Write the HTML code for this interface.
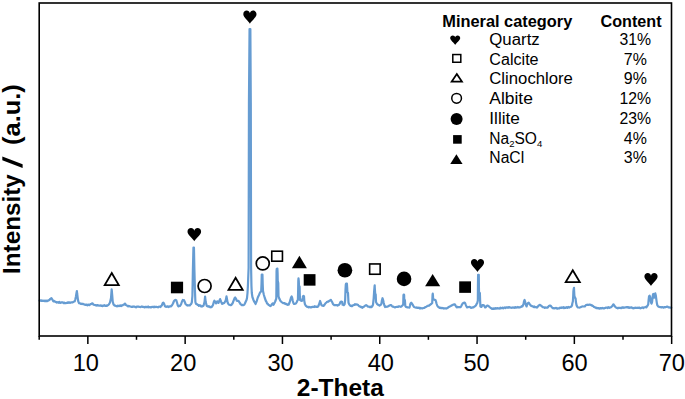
<!DOCTYPE html>
<html><head><meta charset="utf-8"><title>XRD</title>
<style>
html,body{margin:0;padding:0;background:#fff;}
body{width:685px;height:399px;overflow:hidden;}
svg{display:block;font-family:"Liberation Sans",sans-serif;}
.tk text{font-size:23.6px;fill:#000;}
.lg{font-size:15.6px;fill:#000;}
.hd{font-size:16.2px;font-weight:bold;fill:#000;}
.ax{font-weight:bold;fill:#000;}
</style></head>
<body>
<svg width="685" height="399" viewBox="0 0 685 399">
<rect width="685" height="399" fill="#fff"/>
<path d="M39.50,300.60 L40.08,300.47 L40.67,300.35 L41.25,300.90 L41.83,300.37 L42.42,300.89 L43.00,300.90 L43.59,300.81 L44.17,300.54 L44.76,301.04 L45.34,300.61 L45.93,301.05 L46.51,300.73 L47.10,301.20 L47.70,300.54 L48.30,300.70 L48.85,300.27 L49.40,300.00 L50.40,298.80 L51.40,298.10 L52.20,299.30 L53.10,300.90 L53.63,301.46 L54.17,300.99 L54.70,301.60 L55.23,301.49 L55.77,302.06 L56.30,302.10 L56.92,302.61 L57.53,302.31 L58.15,302.20 L58.77,302.84 L59.38,301.98 L60.00,302.50 L60.62,302.91 L61.24,302.40 L61.87,302.31 L62.49,302.34 L63.11,302.59 L63.73,303.15 L64.36,302.57 L64.98,303.03 L65.60,303.00 L66.17,303.11 L66.73,302.81 L67.30,302.95 L67.87,302.43 L68.43,302.39 L69.00,302.80 L69.62,302.45 L70.24,302.86 L70.86,302.55 L71.48,302.37 L72.10,302.50 L72.70,302.34 L73.30,302.00 L74.00,301.60 L74.70,301.30 L75.30,299.50 L75.90,296.70 L76.50,293.00 L76.90,291.10 L77.20,294.00 L77.80,298.60 L78.30,301.50 L79.10,303.20 L79.65,303.15 L80.20,303.50 L80.80,303.89 L81.40,303.70 L82.05,304.05 L82.70,303.74 L83.35,304.22 L84.00,304.30 L84.58,304.45 L85.16,304.92 L85.74,304.89 L86.32,304.57 L86.90,304.90 L87.46,305.38 L88.02,304.52 L88.58,304.82 L89.14,305.16 L89.70,304.90 L90.30,304.20 L90.90,304.20 L91.45,303.79 L92.00,303.40 L92.60,303.39 L93.20,304.30 L93.80,304.77 L94.40,304.90 L95.00,305.00 L95.60,305.32 L96.20,305.19 L96.80,305.56 L97.40,305.05 L98.00,305.30 L98.62,305.55 L99.23,305.49 L99.85,305.53 L100.47,305.46 L101.08,305.89 L101.70,305.60 L102.36,306.06 L103.02,305.61 L103.68,305.82 L104.34,305.24 L105.00,305.70 L105.62,305.80 L106.25,305.65 L106.88,305.89 L107.50,305.30 L108.25,305.12 L109.00,304.30 L110.00,302.50 L111.00,298.00 L111.50,291.50 L111.65,289.30 L111.80,290.50 L112.20,295.00 L112.70,301.50 L113.60,304.60 L114.50,305.60 L115.20,305.58 L115.90,305.89 L116.60,306.20 L117.17,306.34 L117.73,305.66 L118.30,306.06 L118.87,305.73 L119.43,305.65 L120.00,306.00 L120.62,305.43 L121.25,306.02 L121.88,305.25 L122.50,305.50 L123.25,304.80 L124.00,304.60 L125.00,303.60 L126.00,305.00 L126.75,305.39 L127.50,306.00 L128.12,306.47 L128.75,305.78 L129.38,306.25 L130.00,306.40 L130.62,306.50 L131.25,306.88 L131.88,306.87 L132.50,306.96 L133.12,306.43 L133.75,306.62 L134.38,306.61 L135.00,306.80 L135.62,307.21 L136.25,307.31 L136.88,306.53 L137.50,306.58 L138.12,306.66 L138.75,306.68 L139.38,306.96 L140.00,307.00 L140.62,307.08 L141.25,306.74 L141.88,306.47 L142.50,306.87 L143.12,306.81 L143.75,306.99 L144.38,307.37 L145.00,306.90 L145.62,307.10 L146.25,306.94 L146.88,307.06 L147.50,307.13 L148.12,306.52 L148.75,307.37 L149.38,307.27 L150.00,307.00 L150.62,307.40 L151.25,307.35 L151.88,306.97 L152.50,307.00 L153.12,306.73 L153.75,307.28 L154.38,306.74 L155.00,307.20 L155.60,306.79 L156.20,306.95 L156.80,306.92 L157.40,307.12 L158.00,307.30 L158.62,306.78 L159.25,306.65 L159.88,306.73 L160.50,307.00 L161.15,305.85 L161.80,305.50 L162.70,303.20 L163.40,302.60 L164.20,304.00 L165.00,306.30 L166.00,306.90 L166.67,306.70 L167.33,306.29 L168.00,306.70 L168.56,307.03 L169.12,306.73 L169.68,306.23 L170.24,306.29 L170.80,306.50 L171.40,305.75 L172.00,305.30 L173.00,303.50 L174.00,301.00 L175.00,300.00 L175.65,299.96 L176.30,300.20 L177.00,302.50 L177.80,305.50 L178.60,306.40 L179.30,305.82 L180.00,306.00 L181.00,304.50 L182.00,301.50 L182.80,300.00 L183.40,300.45 L184.00,300.20 L184.80,302.00 L185.60,304.20 L186.50,304.80 L187.25,305.54 L188.00,305.30 L188.60,305.33 L189.20,305.42 L189.80,305.50 L190.40,304.44 L191.00,304.20 L191.80,302.50 L192.40,296.00 L192.90,270.00 L193.45,247.60 L193.95,247.60 L194.40,270.00 L195.00,292.00 L195.40,302.00 L196.00,303.80 L196.57,303.80 L197.13,304.44 L197.70,305.00 L198.27,304.96 L198.85,305.73 L199.43,305.26 L200.00,305.80 L200.57,305.47 L201.15,306.55 L201.73,306.28 L202.30,306.40 L202.90,305.75 L203.50,305.80 L204.50,302.00 L205.10,296.50 L205.10,296.50 L205.70,302.00 L206.70,305.80 L207.50,306.40 L208.14,306.54 L208.78,306.13 L209.42,306.73 L210.06,307.28 L210.70,306.90 L211.35,307.11 L212.00,306.60 L213.00,305.00 L213.80,302.00 L214.40,300.70 L215.20,302.00 L216.10,303.40 L216.70,302.30 L217.20,301.30 L217.90,302.30 L218.50,302.90 L219.30,301.00 L220.10,299.10 L221.00,301.50 L221.60,302.90 L222.20,303.90 L222.75,303.46 L223.30,303.50 L223.85,303.07 L224.40,302.90 L225.00,301.62 L225.60,301.00 L226.30,297.50 L226.50,296.40 L226.70,297.50 L227.50,302.00 L228.10,303.52 L228.70,304.50 L229.35,304.73 L230.00,304.90 L230.70,305.23 L231.40,305.00 L231.95,304.08 L232.50,303.50 L233.60,300.70 L234.50,298.30 L235.20,297.50 L236.00,298.80 L236.80,300.70 L237.80,301.00 L238.35,300.87 L238.90,301.30 L239.45,302.46 L240.00,303.00 L240.55,304.23 L241.10,304.50 L241.80,305.05 L242.50,304.90 L243.15,305.26 L243.80,305.00 L244.35,304.57 L244.90,303.50 L245.90,301.30 L246.50,300.00 L247.00,298.00 L247.50,293.00 L247.90,286.00 L248.60,268.00 L248.95,103.00 L249.55,29.00 L250.35,29.00 L250.80,103.00 L251.10,268.00 L251.45,286.00 L251.80,293.00 L252.40,297.00 L253.50,300.00 L254.05,301.39 L254.60,302.30 L255.60,304.00 L256.10,302.48 L256.60,301.50 L257.80,297.50 L258.40,296.27 L259.00,295.00 L260.00,292.60 L260.60,291.81 L261.20,291.30 L261.50,284.00 L261.75,274.60 L262.45,274.60 L262.70,284.00 L263.00,291.00 L263.90,295.00 L264.80,298.00 L265.90,301.00 L266.45,301.73 L267.00,303.40 L267.75,303.73 L268.50,305.00 L269.07,305.15 L269.63,305.49 L270.20,306.10 L271.20,305.50 L272.00,304.00 L272.80,303.30 L273.50,304.80 L274.20,303.50 L275.20,301.50 L276.30,298.50 L276.45,285.00 L276.55,271.00 L276.75,268.80 L277.40,268.70 L277.60,273.00 L277.75,281.00 L278.25,283.00 L278.50,296.30 L279.40,298.80 L280.20,300.50 L281.00,301.50 L282.00,302.30 L282.60,302.73 L283.20,303.22 L283.80,303.00 L284.40,303.11 L285.00,303.77 L285.60,303.50 L286.30,304.34 L287.00,304.20 L287.53,304.82 L288.07,304.40 L288.60,304.70 L289.60,302.50 L290.40,299.90 L291.00,297.50 L291.60,296.50 L292.20,298.00 L292.80,301.00 L293.40,303.00 L294.00,304.00 L295.00,303.80 L295.90,303.50 L296.80,302.00 L297.35,300.67 L297.90,299.90 L298.15,290.00 L298.30,280.60 L298.50,278.30 L298.80,281.00 L298.95,285.50 L299.60,286.50 L299.75,293.00 L300.00,299.90 L301.00,300.80 L301.90,301.00 L302.70,298.00 L303.00,296.30 L303.50,295.90 L304.00,296.30 L304.30,301.00 L304.90,304.00 L305.80,305.90 L306.40,306.08 L307.00,306.80 L307.75,306.75 L308.50,307.30 L309.12,306.93 L309.75,307.27 L310.38,307.48 L311.00,307.00 L311.57,307.29 L312.15,306.88 L312.73,307.00 L313.30,306.80 L313.98,307.05 L314.65,306.28 L315.32,306.81 L316.00,306.60 L316.52,306.98 L317.05,306.83 L317.58,306.78 L318.10,306.50 L318.80,305.00 L319.30,303.50 L320.10,301.00 L320.80,303.00 L321.50,305.30 L322.50,305.70 L323.50,305.90 L324.50,304.80 L325.30,303.50 L325.90,302.98 L326.50,302.50 L327.10,301.78 L327.70,301.70 L328.35,301.64 L329.00,301.00 L330.00,300.50 L330.80,299.80 L331.80,301.50 L332.40,302.58 L333.00,304.00 L333.67,304.67 L334.33,305.20 L335.00,305.10 L335.67,305.03 L336.33,305.07 L337.00,305.20 L337.57,305.61 L338.13,305.36 L338.70,305.10 L339.60,304.00 L340.10,302.80 L340.50,301.90 L341.03,301.57 L341.57,301.53 L342.10,301.90 L342.60,304.70 L343.20,304.55 L343.80,305.10 L344.60,304.30 L345.15,300.00 L345.50,290.00 L345.80,284.50 L346.10,283.60 L346.90,283.60 L347.20,288.00 L347.40,292.20 L348.00,293.00 L348.30,299.00 L348.50,302.80 L349.20,304.30 L349.80,305.10 L350.40,305.80 L351.00,305.70 L351.60,306.21 L352.20,306.10 L352.85,305.30 L353.50,305.20 L354.20,305.03 L354.90,304.20 L355.45,304.73 L356.00,304.30 L356.65,304.56 L357.30,304.50 L357.90,304.85 L358.50,305.50 L359.05,306.05 L359.60,306.50 L360.20,306.43 L360.80,307.10 L361.35,306.81 L361.90,307.50 L362.45,307.77 L363.00,307.10 L363.60,306.95 L364.20,306.50 L365.20,305.70 L366.10,305.10 L366.65,305.53 L367.20,305.90 L367.80,306.63 L368.40,306.50 L368.93,306.53 L369.47,307.07 L370.00,306.80 L370.53,307.19 L371.07,306.64 L371.60,307.00 L372.40,306.00 L373.00,304.70 L373.70,298.00 L374.10,291.70 L374.50,287.00 L374.70,285.40 L374.80,288.00 L375.20,293.60 L375.70,294.50 L376.00,301.90 L376.70,303.30 L377.20,304.20 L377.75,304.35 L378.30,305.00 L378.90,305.09 L379.50,305.60 L380.50,305.00 L381.40,303.80 L381.90,300.50 L382.50,298.20 L383.10,300.00 L383.70,302.80 L384.40,305.50 L385.10,307.00 L385.80,306.64 L386.50,306.80 L387.20,306.74 L387.90,306.50 L388.60,305.86 L389.30,305.70 L390.00,305.32 L390.70,305.10 L391.25,305.13 L391.80,305.90 L392.40,306.61 L393.00,306.50 L394.00,307.00 L395.00,307.40 L395.60,307.09 L396.20,307.02 L396.80,306.90 L397.43,306.82 L398.07,306.97 L398.70,306.40 L399.35,306.37 L400.00,306.50 L400.75,306.87 L401.50,306.40 L402.10,305.80 L402.40,305.50 L403.20,304.50 L403.35,299.00 L403.45,295.30 L403.65,294.50 L404.00,294.50 L404.15,295.30 L404.25,299.00 L404.90,300.30 L405.10,303.00 L405.30,306.00 L406.10,306.90 L406.80,307.15 L407.50,307.40 L408.50,307.50 L409.40,307.60 L409.90,306.00 L410.30,304.10 L410.70,303.20 L411.20,302.70 L411.90,303.50 L412.60,304.60 L413.30,305.80 L414.00,306.90 L414.75,307.23 L415.50,307.50 L416.10,307.69 L416.70,307.35 L417.30,308.00 L417.85,307.99 L418.40,307.78 L418.95,307.65 L419.50,308.20 L420.10,308.52 L420.70,307.92 L421.30,308.25 L421.90,308.30 L422.60,308.38 L423.30,308.00 L424.00,307.86 L424.70,307.60 L425.25,307.13 L425.80,307.00 L426.40,306.62 L427.00,306.20 L427.70,305.96 L428.40,305.60 L429.10,305.58 L429.80,305.00 L430.60,304.40 L431.20,304.00 L432.20,303.00 L432.40,298.50 L432.55,295.00 L432.75,293.60 L432.95,295.30 L433.10,298.50 L434.00,299.60 L435.00,299.80 L435.60,300.20 L436.00,301.50 L436.50,303.50 L437.20,305.50 L437.90,306.60 L438.70,307.20 L439.50,307.80 L440.10,307.51 L440.70,308.06 L441.30,308.10 L441.93,307.92 L442.57,308.01 L443.20,308.30 L443.80,308.57 L444.40,308.31 L445.00,308.30 L445.63,308.36 L446.27,308.56 L446.90,308.30 L447.90,307.70 L448.80,306.90 L449.80,306.40 L450.70,306.00 L451.60,305.50 L452.50,305.00 L453.50,304.60 L454.40,304.30 L455.00,304.60 L455.70,305.80 L456.40,306.90 L456.92,307.34 L457.45,306.89 L457.98,307.09 L458.50,307.00 L459.02,307.03 L459.55,307.06 L460.08,307.27 L460.60,307.10 L461.30,306.00 L462.00,304.60 L462.90,303.20 L463.80,302.80 L464.70,302.50 L465.20,303.30 L465.70,304.60 L466.40,306.20 L467.10,307.40 L467.65,307.20 L468.20,307.10 L468.80,307.03 L469.40,306.90 L469.95,307.08 L470.50,307.30 L471.10,307.89 L471.70,307.60 L472.25,307.65 L472.80,307.30 L473.40,307.48 L474.00,306.90 L475.00,306.30 L475.90,305.50 L476.60,304.00 L477.20,303.20 L477.85,300.50 L477.95,285.00 L478.10,274.80 L478.80,274.80 L478.90,285.00 L479.00,292.00 L479.90,293.20 L480.10,300.00 L480.40,306.40 L481.40,306.90 L481.90,306.00 L482.40,305.00 L483.10,305.00 L483.80,305.20 L484.50,306.30 L485.10,307.40 L485.70,307.39 L486.30,306.50 L486.90,305.76 L487.50,305.50 L488.20,305.90 L488.90,306.40 L489.80,307.20 L490.70,308.00 L491.23,308.23 L491.77,308.78 L492.30,308.50 L492.87,308.94 L493.43,308.34 L494.00,308.80 L494.57,308.37 L495.15,308.64 L495.73,308.22 L496.30,308.60 L496.88,308.27 L497.45,308.02 L498.03,308.54 L498.60,308.30 L499.16,308.52 L499.72,308.58 L500.28,307.77 L500.84,308.28 L501.40,308.00 L501.96,308.12 L502.52,307.56 L503.08,308.26 L503.64,308.31 L504.20,307.80 L504.87,307.42 L505.53,308.05 L506.20,307.50 L506.73,307.32 L507.25,307.34 L507.77,307.76 L508.30,307.20 L508.87,307.63 L509.43,307.06 L510.00,307.50 L510.53,307.53 L511.07,307.72 L511.60,307.80 L512.17,307.61 L512.73,307.43 L513.30,307.70 L513.87,307.49 L514.43,307.86 L515.00,307.60 L515.58,307.09 L516.15,307.60 L516.72,307.47 L517.30,307.50 L517.88,306.99 L518.45,307.28 L519.02,307.55 L519.60,307.40 L520.30,307.16 L521.00,306.90 L521.70,306.21 L522.40,306.40 L523.00,305.40 L523.50,304.10 L524.00,301.50 L524.60,300.00 L525.10,301.50 L525.50,303.70 L526.00,305.20 L526.60,306.40 L527.00,305.00 L527.50,303.70 L528.10,303.00 L528.70,302.70 L529.50,303.80 L530.30,305.00 L531.00,305.89 L531.70,305.80 L532.40,306.39 L533.10,306.40 L533.73,307.11 L534.37,306.47 L535.00,307.10 L535.60,307.03 L536.20,306.97 L536.80,307.60 L537.80,306.70 L538.70,305.50 L539.40,305.10 L540.00,304.90 L541.00,305.60 L541.90,306.40 L542.60,307.08 L543.30,307.20 L544.00,307.27 L544.70,307.80 L545.35,307.38 L546.00,307.70 L546.75,307.57 L547.50,307.60 L548.20,306.90 L548.90,306.00 L549.60,305.60 L550.30,305.50 L551.20,306.40 L552.10,307.40 L552.80,308.11 L553.50,308.00 L554.20,308.47 L554.90,308.30 L555.50,308.06 L556.10,307.95 L556.70,308.30 L557.33,308.72 L557.97,308.37 L558.60,308.30 L559.23,308.40 L559.87,307.69 L560.50,308.00 L561.10,307.42 L561.70,307.92 L562.30,307.60 L562.88,307.53 L563.45,307.17 L564.02,308.04 L564.60,307.60 L565.17,307.73 L565.75,307.90 L566.33,307.18 L566.90,307.60 L567.53,307.86 L568.17,306.97 L568.80,307.30 L569.43,307.53 L570.07,306.99 L570.70,306.90 L571.40,306.30 L572.00,305.50 L572.30,303.50 L572.90,301.30 L573.20,296.00 L573.40,291.10 L573.80,288.50 L574.00,287.90 L574.10,290.50 L574.40,295.80 L575.00,297.50 L575.60,298.60 L575.90,302.00 L576.50,305.00 L577.10,306.50 L577.70,307.40 L578.70,307.50 L579.60,307.60 L580.50,307.20 L581.50,306.70 L582.20,306.44 L582.90,306.50 L583.55,306.50 L584.20,306.40 L584.80,306.48 L585.40,305.70 L586.00,305.12 L586.60,305.00 L587.23,304.60 L587.87,304.96 L588.50,304.90 L589.10,304.64 L589.70,304.51 L590.30,304.90 L590.90,304.81 L591.50,305.40 L592.05,305.25 L592.60,306.00 L593.30,306.15 L594.00,306.90 L594.70,307.06 L595.40,307.60 L595.92,307.56 L596.45,308.16 L596.98,307.84 L597.50,308.20 L598.17,308.33 L598.83,308.14 L599.50,308.60 L600.13,308.41 L600.77,308.05 L601.40,308.50 L602.03,308.18 L602.67,307.88 L603.30,308.30 L603.93,308.43 L604.57,308.15 L605.20,308.00 L605.80,307.56 L606.40,307.71 L607.00,307.60 L607.63,308.00 L608.27,307.14 L608.90,307.50 L609.50,307.79 L610.10,307.37 L610.70,307.40 L611.50,306.80 L612.30,306.00 L612.90,305.00 L613.50,304.30 L614.20,305.30 L614.80,306.40 L615.80,307.30 L616.70,308.00 L617.23,307.96 L617.77,308.27 L618.30,307.90 L618.83,307.76 L619.37,307.84 L619.90,307.80 L620.53,307.92 L621.17,308.15 L621.80,307.60 L622.43,307.38 L623.07,307.80 L623.70,307.40 L624.25,307.63 L624.80,307.59 L625.35,307.38 L625.90,307.50 L626.42,307.37 L626.95,307.10 L627.48,307.20 L628.00,307.60 L628.62,307.20 L629.25,307.89 L629.88,307.43 L630.50,307.70 L631.12,307.41 L631.75,307.38 L632.38,308.19 L633.00,307.90 L633.60,308.29 L634.20,308.11 L634.80,307.74 L635.40,307.72 L636.00,308.00 L636.60,307.77 L637.20,307.92 L637.80,307.60 L638.40,307.87 L639.00,307.90 L639.60,307.62 L640.20,308.28 L640.80,308.25 L641.40,307.79 L642.00,307.70 L642.62,307.39 L643.25,308.07 L643.88,307.36 L644.50,307.50 L645.13,307.29 L645.77,306.87 L646.40,307.30 L646.95,306.43 L647.50,305.80 L648.20,304.50 L648.60,300.00 L649.00,296.50 L649.60,295.70 L650.10,297.00 L650.60,300.50 L651.10,302.80 L651.60,303.50 L652.10,302.00 L652.50,298.00 L652.90,295.00 L653.30,294.00 L653.80,295.50 L654.20,297.70 L654.70,295.50 L655.30,293.40 L655.80,295.50 L656.50,300.60 L656.90,303.30 L657.30,305.20 L658.10,306.30 L659.00,306.90 L659.58,307.00 L660.15,307.15 L660.72,306.98 L661.30,307.40 L661.90,307.48 L662.50,307.05 L663.10,307.39 L663.70,307.70 L664.45,307.09 L665.20,307.30 L665.85,307.00 L666.50,306.90 L667.17,306.61 L667.83,306.76 L668.50,307.40 L669.02,307.28 L669.55,307.28 L670.08,307.71 L670.60,307.70 L671.30,307.70" fill="none" stroke="#669cd2" stroke-width="2.2" stroke-linejoin="round" stroke-linecap="round"/>
<rect x="39.2" y="3" width="632.3" height="333" fill="none" stroke="#000" stroke-width="1.6"/>
<g stroke="#000" stroke-width="1.5">
<line x1="39.20" y1="336" x2="39.20" y2="339.8" />
<line x1="87.85" y1="336" x2="87.85" y2="344" />
<line x1="136.50" y1="336" x2="136.50" y2="339.8" />
<line x1="185.15" y1="336" x2="185.15" y2="344" />
<line x1="233.80" y1="336" x2="233.80" y2="339.8" />
<line x1="282.45" y1="336" x2="282.45" y2="344" />
<line x1="331.10" y1="336" x2="331.10" y2="339.8" />
<line x1="379.75" y1="336" x2="379.75" y2="344" />
<line x1="428.40" y1="336" x2="428.40" y2="339.8" />
<line x1="477.05" y1="336" x2="477.05" y2="344" />
<line x1="525.70" y1="336" x2="525.70" y2="339.8" />
<line x1="574.35" y1="336" x2="574.35" y2="344" />
<line x1="623.00" y1="336" x2="623.00" y2="339.8" />
<line x1="671.65" y1="336" x2="671.65" y2="344" />
</g>
<g class="tk">
<text x="85.75" y="371.3" text-anchor="middle">10</text>
<text x="183.20" y="371.3" text-anchor="middle">20</text>
<text x="280.55" y="371.3" text-anchor="middle">30</text>
<text x="380.75" y="371.3" text-anchor="middle">40</text>
<text x="476.55" y="371.3" text-anchor="middle">50</text>
<text x="574.50" y="371.3" text-anchor="middle">60</text>
<text x="671.75" y="371.3" text-anchor="middle">70</text>
</g>
<text class="ax" x="340.35" y="395.5" text-anchor="middle" font-size="24px" textLength="87" lengthAdjust="spacingAndGlyphs">2-Theta</text>
<text class="ax" transform="translate(19.5,273.9) rotate(-90)" font-size="23.4px" textLength="99.6" lengthAdjust="spacingAndGlyphs">Intensity</text>
<polygon points="2.3,156.6 2.3,160.3 22.6,167.9 22.6,164.2" fill="#000"/>
<text class="ax" transform="translate(19.5,144.9) rotate(-90)" font-size="23.4px" textLength="60.6" lengthAdjust="spacingAndGlyphs">(a.u.)</text>
<g>
<path d="M111.75,272.99 L118.79,285.10 L104.71,285.10 Z" fill="#fff" stroke="#000" stroke-width="1.8" stroke-linejoin="miter"/>
<rect x="170.90" y="281.70" width="12.20" height="11.60" fill="#000"/>
<path d="M194.30,241.20 C193.21,238.84 187.50,234.91 187.50,231.64 C187.50,229.41 189.00,228.10 191.04,228.10 C192.67,228.10 193.89,229.15 194.30,230.72 C194.71,229.15 195.93,228.10 197.56,228.10 C199.60,228.10 201.10,229.41 201.10,231.64 C201.10,234.91 195.39,238.84 194.30,241.20 Z" fill="#000"/>
<circle cx="204.60" cy="286.00" r="6.50" fill="#fff" stroke="#000" stroke-width="1.7"/>
<path d="M235.60,277.79 L242.69,289.80 L228.51,289.80 Z" fill="#fff" stroke="#000" stroke-width="1.8" stroke-linejoin="miter"/>
<path d="M249.90,23.70 C248.84,21.34 243.30,17.41 243.30,14.14 C243.30,11.91 244.75,10.60 246.73,10.60 C248.32,10.60 249.50,11.65 249.90,13.22 C250.30,11.65 251.48,10.60 253.07,10.60 C255.05,10.60 256.50,11.91 256.50,14.14 C256.50,17.41 250.96,21.34 249.90,23.70 Z" fill="#000"/>
<circle cx="262.75" cy="263.45" r="6.50" fill="#fff" stroke="#000" stroke-width="1.7"/>
<rect x="271.75" y="251.20" width="10.70" height="10.00" fill="#fff" stroke="#000" stroke-width="1.6"/>
<path d="M299.40,255.80 L306.90,268.30 L291.90,268.30 Z" fill="#000"/>
<rect x="303.70" y="274.15" width="11.80" height="11.50" fill="#000"/>
<circle cx="344.90" cy="270.25" r="7.35" fill="#000"/>
<rect x="369.65" y="263.95" width="10.50" height="10.30" fill="#fff" stroke="#000" stroke-width="1.6"/>
<circle cx="404.05" cy="278.90" r="7.30" fill="#000"/>
<path d="M432.65,274.00 L440.20,286.20 L425.10,286.20 Z" fill="#000"/>
<rect x="459.20" y="281.35" width="11.80" height="11.50" fill="#000"/>
<path d="M477.50,272.00 C476.45,269.64 470.95,265.71 470.95,262.44 C470.95,260.21 472.39,258.90 474.36,258.90 C475.93,258.90 477.11,259.95 477.50,261.52 C477.89,259.95 479.07,258.90 480.64,258.90 C482.61,258.90 484.05,260.21 484.05,262.44 C484.05,265.71 478.55,269.64 477.50,272.00 Z" fill="#000"/>
<path d="M572.75,270.19 L579.79,282.10 L565.71,282.10 Z" fill="#fff" stroke="#000" stroke-width="1.8" stroke-linejoin="miter"/>
<path d="M651.00,286.10 C649.94,283.76 644.40,279.86 644.40,276.61 C644.40,274.40 645.85,273.10 647.83,273.10 C649.42,273.10 650.60,274.14 651.00,275.70 C651.40,274.14 652.58,273.10 654.17,273.10 C656.15,273.10 657.60,274.40 657.60,276.61 C657.60,279.86 652.06,283.76 651.00,286.10 Z" fill="#000"/>
</g>
<text class="hd" x="442.3" y="27" textLength="130" lengthAdjust="spacingAndGlyphs">Mineral category</text>
<text class="hd" x="600.6" y="27" textLength="61" lengthAdjust="spacingAndGlyphs">Content</text>
<text x="489.3" y="44.8" class="lg" textLength="50.4" lengthAdjust="spacingAndGlyphs">Quartz</text>
<text x="619.50" y="44.8" class="lg" textLength="31.6" lengthAdjust="spacingAndGlyphs">31%</text>
<text x="489.3" y="64.6" class="lg" textLength="49.3" lengthAdjust="spacingAndGlyphs">Calcite</text>
<text x="623.80" y="64.6" class="lg" textLength="23.0" lengthAdjust="spacingAndGlyphs">7%</text>
<text x="489.3" y="84.3" class="lg" textLength="83.6" lengthAdjust="spacingAndGlyphs">Clinochlore</text>
<text x="623.80" y="84.3" class="lg" textLength="23.0" lengthAdjust="spacingAndGlyphs">9%</text>
<text x="489.3" y="103.9" class="lg" textLength="43.6" lengthAdjust="spacingAndGlyphs">Albite</text>
<text x="619.50" y="103.9" class="lg" textLength="31.6" lengthAdjust="spacingAndGlyphs">12%</text>
<text x="489.3" y="124" class="lg" textLength="30.6" lengthAdjust="spacingAndGlyphs">Illite</text>
<text x="619.50" y="124" class="lg" textLength="31.6" lengthAdjust="spacingAndGlyphs">23%</text>
<text x="489.3" y="143.6" class="lg" textLength="53.0" lengthAdjust="spacingAndGlyphs">Na<tspan dy="3.6" font-size="9.6">2</tspan><tspan dy="-3.6">SO</tspan><tspan dy="3.6" font-size="9.6">4</tspan></text>
<text x="623.80" y="143.6" class="lg" textLength="23.0" lengthAdjust="spacingAndGlyphs">4%</text>
<text x="489.3" y="162.9" class="lg" textLength="34.9" lengthAdjust="spacingAndGlyphs">NaCl</text>
<text x="623.80" y="162.9" class="lg" textLength="23.0" lengthAdjust="spacingAndGlyphs">3%</text>

<g>
<path d="M455.20,44.90 C454.40,43.19 450.20,40.34 450.20,37.96 C450.20,36.35 451.30,35.40 452.80,35.40 C454.00,35.40 454.90,36.16 455.20,37.30 C455.50,36.16 456.40,35.40 457.60,35.40 C459.10,35.40 460.20,36.35 460.20,37.96 C460.20,40.34 456.00,43.19 455.20,44.90 Z" fill="#000"/>
<rect x="452.80" y="54.55" width="8.00" height="7.70" fill="#fff" stroke="#000" stroke-width="1.5"/>
<path d="M456.80,74.09 L461.89,81.60 L451.71,81.60 Z" fill="#fff" stroke="#000" stroke-width="1.8" stroke-linejoin="miter"/>
<circle cx="456.60" cy="98.30" r="4.85" fill="#fff" stroke="#000" stroke-width="1.5"/>
<circle cx="456.60" cy="119.10" r="6.00" fill="#000"/>
<rect x="453.10" y="135.10" width="8.60" height="8.60" fill="#000"/>
<path d="M456.40,154.30 L462.55,163.90 L450.25,163.90 Z" fill="#000"/>
</g>
</svg>
</body></html>
